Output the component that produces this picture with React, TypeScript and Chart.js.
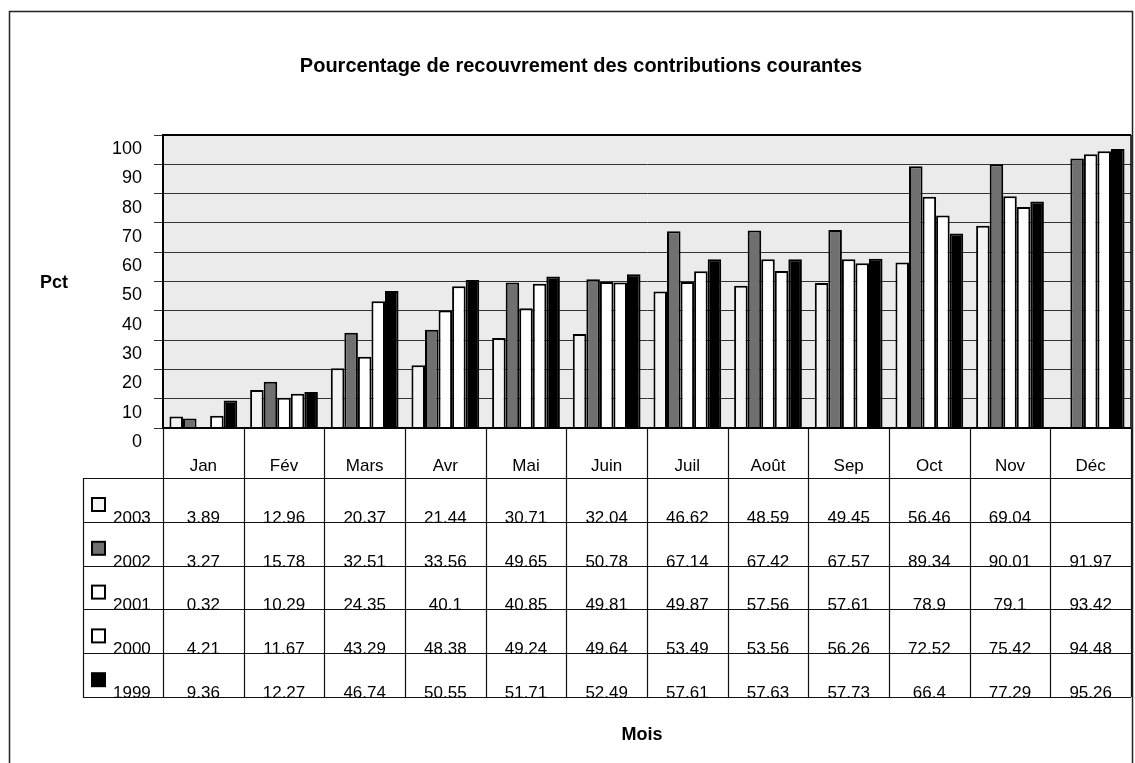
import React, { useEffect, useRef } from 'react';
import { Chart, registerables } from 'chart.js';

Chart.register(...registerables);

const titleText = 'Pourcentage de recouvrement des contributions courantes';
const yTitle = 'Pct';
const xTitle = 'Mois';
const months = ['Jan', 'Fév', 'Mars', 'Avr', 'Mai', 'Juin', 'Juil', 'Août', 'Sep', 'Oct', 'Nov', 'Déc'];
const years = ['2003', '2002', '2001', '2000', '1999'];
const s2003 = [3.89, 12.96, 20.37, 21.44, 30.71, 32.04, 46.62, 48.59, 49.45, 56.46, 69.04, null];
const s2002 = [3.27, 15.78, 32.51, 33.56, 49.65, 50.78, 67.14, 67.42, 67.57, 89.34, 90.01, 91.97];
const s2001 = [0.32, 10.29, 24.35, 40.1, 40.85, 49.81, 49.87, 57.56, 57.61, 78.9, 79.1, 93.42];
const s2000 = [4.21, 11.67, 43.29, 48.38, 49.24, 49.64, 53.49, 53.56, 56.26, 72.52, 75.42, 94.48];
const s1999 = [9.36, 12.27, 46.74, 50.55, 51.71, 52.49, 57.61, 57.63, 57.73, 66.4, 77.29, 95.26];
const yMin = 0;
const yMax = 100;
const yStep = 10;

const seriesValues = [s2003, s2002, s2001, s2000, s1999];
const seriesColors = ['#f3f3f3', '#707070', '#ffffff', '#ffffff', '#000000'];

const FONT = '"Liberation Sans", Arial, Helvetica, sans-serif';

const W = 1135;
const H = 763;

const framePlugin = {
  id: 'frameTable',
  beforeDraw(chart: any) {
    const { ctx, chartArea } = chart;
    ctx.save();
    ctx.fillStyle = '#ffffff';
    ctx.fillRect(0, 0, W, H);
    ctx.fillStyle = '#ebebeb';
    ctx.fillRect(chartArea.left, chartArea.top, chartArea.right - chartArea.left, chartArea.bottom - chartArea.top);
    ctx.restore();
  },
  afterDraw(chart: any) {
    const { ctx, chartArea } = chart;
    const left = chartArea.left;
    const right = chartArea.right;
    const top = chartArea.top;
    const bottom = chartArea.bottom;
    const colW = (right - left) / months.length;
    const tableLeft = 83;
    const headerBottom = 478;
    const tableBottom = 697;
    const rowH = (tableBottom - headerBottom) / years.length;

    ctx.save();
    // outer frame
    ctx.strokeStyle = '#222';
    ctx.lineWidth = 1.5;
    ctx.strokeRect(9.5, 11.5, 1123, 800);

    // plot border
    ctx.strokeStyle = '#000';
    ctx.lineWidth = 2;
    ctx.beginPath();
    ctx.moveTo(left, top);
    ctx.lineTo(right, top);
    ctx.stroke();
    ctx.lineWidth = 1.5;
    ctx.beginPath();
    ctx.moveTo(right, top);
    ctx.lineTo(right, bottom);
    ctx.stroke();
    // x axis line
    ctx.lineWidth = 2;
    ctx.beginPath();
    ctx.moveTo(left, bottom);
    ctx.lineTo(right, bottom);
    ctx.stroke();

    // table lines
    ctx.lineWidth = 1.2;
    ctx.strokeStyle = '#111';
    for (let i = 0; i <= months.length; i++) {
      const x = Math.round(left + i * colW) + 0.5;
      ctx.beginPath();
      ctx.moveTo(x, bottom);
      ctx.lineTo(x, tableBottom);
      ctx.stroke();
    }
    ctx.beginPath();
    ctx.moveTo(tableLeft + 0.5, headerBottom);
    ctx.lineTo(tableLeft + 0.5, tableBottom);
    ctx.stroke();
    for (let r = 0; r <= years.length; r++) {
      const y = Math.round(headerBottom + r * rowH) + 0.5;
      ctx.beginPath();
      ctx.moveTo(tableLeft, y);
      ctx.lineTo(right, y);
      ctx.stroke();
    }

    // month labels
    ctx.fillStyle = '#000';
    ctx.font = `17px ${FONT}`;
    ctx.textAlign = 'center';
    ctx.textBaseline = 'middle';
    months.forEach((m, i) => {
      ctx.fillText(m, left + (i + 0.5) * colW, 466);
    });

    // rows
    years.forEach((yr, r) => {
      const rowTop = headerBottom + r * rowH;
      const rowBottom = rowTop + rowH;
      // legend box
      ctx.fillStyle = seriesColors[r];
      ctx.fillRect(92, rowTop + 20, 13, 13);
      ctx.strokeStyle = '#000';
      ctx.lineWidth = 2;
      ctx.strokeRect(92, rowTop + 20, 13, 13);
      ctx.fillStyle = '#000';
      ctx.textAlign = 'left';
      ctx.textBaseline = 'alphabetic';
      ctx.fillText(yr, 113, rowBottom + 1);
      ctx.textAlign = 'center';
      seriesValues[r].forEach((v, i) => {
        if (v === null || v === undefined) return;
        ctx.fillText(String(v), left + (i + 0.5) * colW, rowBottom + 1);
      });
    });

    // titles
    ctx.fillStyle = '#000';
    ctx.textAlign = 'center';
    ctx.textBaseline = 'middle';
    ctx.font = `bold 20px ${FONT}`;
    ctx.fillText(titleText, 581, 66);
    ctx.font = `bold 18px ${FONT}`;
    ctx.fillText(yTitle, 54, 283);
    ctx.fillText(xTitle, 642, 735);
    ctx.restore();
  },
};

export default function App() {
  const ref = useRef<HTMLCanvasElement>(null);
  useEffect(() => {
    const canvas = ref.current;
    if (!canvas) return;
    const chart = new Chart(canvas, {
      type: 'bar',
      data: {
        labels: months,
        datasets: years.map((yr, i) => ({
          label: yr,
          data: seriesValues[i] as any,
          backgroundColor: seriesColors[i],
          borderColor: '#000',
          borderWidth: 2,
          categoryPercentage: 0.84,
          barPercentage: 1,
        })),
      },
      options: {
        responsive: false,
        animation: false,
        devicePixelRatio: 1,
        layout: { padding: { left: 0, right: W - 1131, top: 135, bottom: H - 428 } },
        plugins: {
          legend: { display: false },
          title: { display: false },
          tooltip: { enabled: false },
        },
        scales: {
          x: { display: false, offset: true },
          y: {
            min: yMin,
            max: yMax,
            ticks: {
              stepSize: yStep,
              padding: 12,
              labelOffset: 14,
              color: '#000',
              font: { family: FONT, size: 18 },
            },
            grid: { color: '#333', lineWidth: 1, tickLength: 9, drawTicks: true },
            border: { color: '#000', width: 2 },
            afterFit: (s: any) => {
              s.width = 163;
            },
          },
        },
      },
      plugins: [framePlugin],
    });
    return () => chart.destroy();
  }, []);
  return (
    <div style={{ position: 'fixed', left: 0, top: 0, width: W, height: H, background: '#fff' }}>
      <canvas ref={ref} width={W} height={H} style={{ width: W, height: H, display: 'block' }} />
    </div>
  );
}
